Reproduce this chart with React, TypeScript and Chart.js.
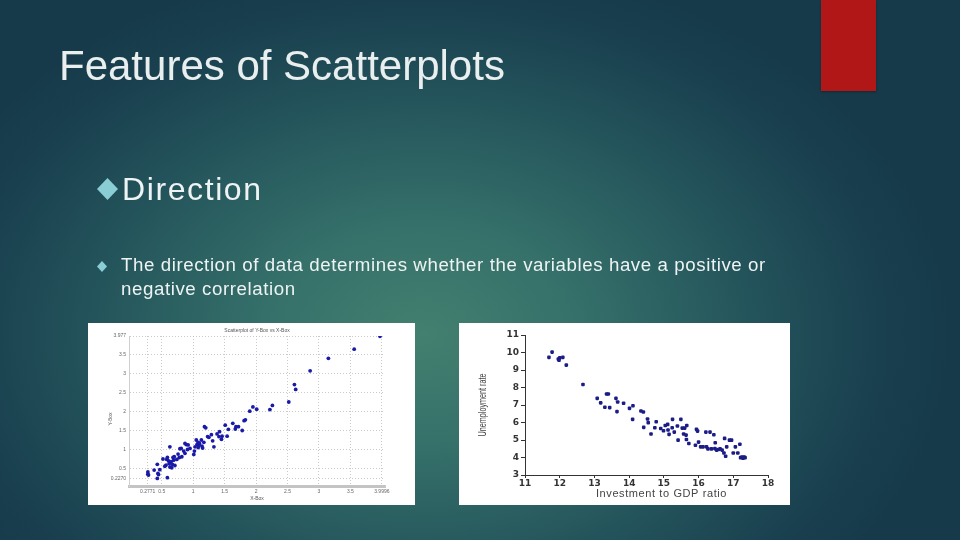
import React, { useEffect, useRef } from "react";
import { Chart, registerables } from "chart.js";
Chart.register(...registerables);

// ---------- Left chart: positive correlation ----------
const posX = [3.97, 3.56, 3.15, 2.86, 2.61, 2.63, 2.52, 2.26, 2.22, 1.95, 2.01, 1.9, 1.83, 1.81, 1.63, 1.51, 1.68, 1.72, 1.67, 1.78, 1.56, 1.42, 1.18, 1.2, 1.23, 1.25, 1.29, 1.38, 1.41, 1.46, 1.45, 1.54, 1.31, 1.33, 1.17, 1.14, 1.05, 1.08, 1.1, 1.13, 1.06, 1.09, 1.03, 1.08, 1.15, 1.02, 1.01, 0.89, 0.87, 0.91, 0.85, 0.81, 0.79, 0.87, 0.82, 0.78, 0.74, 0.68, 0.63, 0.59, 0.58, 0.61, 0.65, 0.62, 0.67, 0.69, 0.71, 0.66, 0.63, 0.57, 0.55, 0.52, 0.43, 0.47, 0.44, 0.45, 0.38, 0.59, 0.43, 0.28, 0.28, 0.29, 0.92, 0.95, 0.76, 0.7];
const posY = [3.97, 3.63, 3.39, 3.06, 2.7, 2.57, 2.24, 2.15, 2.04, 2.11, 2.05, 2.0, 1.77, 1.75, 1.68, 1.63, 1.59, 1.59, 1.53, 1.49, 1.52, 1.46, 1.59, 1.56, 1.33, 1.31, 1.38, 1.4, 1.33, 1.34, 1.26, 1.34, 1.22, 1.06, 1.18, 1.08, 1.24, 1.18, 1.15, 1.24, 1.12, 1.1, 1.06, 1.04, 1.03, 0.95, 0.86, 1.12, 1.15, 0.99, 0.95, 1.02, 1.01, 0.89, 0.8, 0.78, 0.73, 0.78, 1.06, 0.78, 0.73, 0.69, 0.67, 0.62, 0.6, 0.71, 0.57, 0.51, 0.53, 0.58, 0.55, 0.74, 0.6, 0.46, 0.36, 0.33, 0.45, 0.25, 0.23, 0.4, 0.34, 0.32, 1.11, 1.02, 0.87, 0.8];
const posXTicks = [0.2771, 0.5, 1, 1.5, 2, 2.5, 3, 3.5, 3.9996];
const posXTickLabels = ["0.2771", "0.5", "1", "1.5", "2", "2.5", "3", "3.5", "3.9996"];
const posYTicks = [0.227, 0.5, 1, 1.5, 2, 2.5, 3, 3.5, 3.977];
const posYTickLabels = ["0.2270", "0.5", "1", "1.5", "2", "2.5", "3", "3.5", "3.977"];
const posTitle = "Scatterplot of Y-Box vs X-Box";
const posXTitle = "X-Box";
const posYTitle = "Y-Box";

// ---------- Right chart: negative correlation ----------
const negX = [11.69, 11.78, 11.96, 12.0, 12.09, 11.98, 12.19, 12.67, 13.08, 13.18, 13.35, 13.4, 13.3, 13.44, 13.62, 13.67, 13.65, 13.84, 14.01, 14.11, 14.1, 14.34, 14.41, 14.42, 14.53, 14.55, 14.63, 14.74, 14.78, 14.91, 14.99, 15.04, 15.11, 15.12, 15.15, 15.24, 15.25, 15.3, 15.39, 15.41, 15.49, 15.53, 15.57, 15.6, 15.66, 15.64, 15.65, 15.72, 15.91, 15.94, 15.97, 16.0, 16.06, 16.13, 16.23, 16.21, 16.27, 16.33, 16.37, 16.44, 16.48, 16.47, 16.52, 16.57, 16.62, 16.68, 16.73, 16.75, 16.78, 16.81, 16.89, 16.95, 17.0, 17.06, 17.13, 17.19, 17.21, 17.25, 17.28, 17.34, 17.31];
const negY = [9.72, 10.02, 9.62, 9.69, 9.72, 9.56, 9.28, 8.17, 7.38, 7.12, 7.63, 7.63, 6.87, 6.85, 7.38, 7.17, 6.62, 7.1, 6.81, 6.96, 6.18, 6.66, 6.6, 5.72, 6.2, 5.99, 5.34, 5.7, 6.04, 5.66, 5.53, 5.83, 5.89, 5.57, 5.32, 5.7, 6.18, 5.45, 5.8, 4.99, 6.18, 5.68, 5.34, 5.68, 5.83, 5.28, 5.03, 4.8, 4.7, 5.61, 5.51, 4.88, 4.61, 4.61, 4.61, 5.45, 4.49, 5.45, 4.49, 5.3, 4.84, 4.51, 4.42, 4.46, 4.49, 4.42, 4.26, 5.09, 4.07, 4.61, 4.99, 4.99, 4.26, 4.61, 4.26, 4.76, 3.99, 4.03, 3.96, 3.99, 4.03];
const negXTitle = "Investment to GDP ratio";
const negYTitle = "Unemployment rate";

const FONT = '"Liberation Sans", Arial, sans-serif';
const WIDE = '"DejaVu Sans", "Liberation Sans", sans-serif';

function toPoints(xs: number[], ys: number[]) {
  return xs.map((x, i) => ({ x, y: ys[i] }));
}

function PositiveChart() {
  const ref = useRef<HTMLCanvasElement | null>(null);
  useEffect(() => {
    if (!ref.current) return;
    const titles = {
      id: "posTitles",
      afterDraw(chart: any) {
        const { ctx, chartArea } = chart;
        const cx = (chartArea.left + chartArea.right) / 2;
        ctx.save();
        ctx.fillStyle = "#555";
        ctx.font = `5px ${FONT}`;
        ctx.textAlign = "center";
        ctx.textBaseline = "middle";
        ctx.fillText(posTitle, cx, chartArea.top - 5);
        ctx.fillText(posXTitle, cx, chartArea.bottom + 13);
        ctx.translate(chartArea.left - 18, (chartArea.top + chartArea.bottom) / 2 + 8);
        ctx.rotate(-Math.PI / 2);
        ctx.fillText(posYTitle, 0, 0);
        ctx.restore();
      },
    };
    const chart = new Chart(ref.current, {
      type: "scatter",
      data: {
        datasets: [
          {
            data: toPoints(posX, posY),
            backgroundColor: "#1a1aa8",
            borderColor: "#1a1aa8",
            pointRadius: 1.9,
            borderWidth: 0,
          },
        ],
      },
      options: {
        animation: false,
        responsive: true,
        maintainAspectRatio: false,
        layout: { padding: { left: 0, right: 30, top: 13, bottom: 0 } },
        plugins: { legend: { display: false }, tooltip: { enabled: false } },
        scales: {
          x: {
            type: "linear",
            min: -0.02,
            max: 4.05,
            afterBuildTicks: (s: any) => {
              s.ticks = posXTicks.map((v) => ({ value: v }));
            },
            afterFit: (s: any) => {
              s.height = 19;
            },
            ticks: {
              autoSkip: false,
              maxRotation: 0,
              padding: 3,
              color: "#666",
              font: { size: 5, family: FONT },
              callback: (_v: any, i: number) => posXTickLabels[i],
            },
            grid: { color: "#bdbdbd", drawTicks: false, lineWidth: 0.8 },
            border: { color: "#c4c4c4", width: 3, dash: [1, 2] },
          },
          y: {
            type: "linear",
            min: 0.03,
            max: 3.977,
            afterBuildTicks: (s: any) => {
              s.ticks = posYTicks.map((v) => ({ value: v }));
            },
            afterFit: (s: any) => {
              s.width = 41;
            },
            ticks: {
              autoSkip: false,
              padding: 3,
              color: "#666",
              font: { size: 5, family: FONT },
              callback: (_v: any, i: number) => posYTickLabels[i],
            },
            grid: { color: "#bdbdbd", drawTicks: false, lineWidth: 0.8 },
            border: { color: "#d0d0d0", width: 1, dash: [1, 2] },
          },
        },
      },
      plugins: [titles],
    } as any);
    return () => chart.destroy();
  }, []);
  return <canvas ref={ref} />;
}

function NegativeChart() {
  const ref = useRef<HTMLCanvasElement | null>(null);
  useEffect(() => {
    if (!ref.current) return;
    const titles = {
      id: "negTitles",
      afterDraw(chart: any) {
        const { ctx, chartArea } = chart;
        ctx.save();
        ctx.fillStyle = "#444";
        ctx.textAlign = "center";
        ctx.textBaseline = "middle";
        ctx.font = `11px ${FONT}`;
        (ctx as any).letterSpacing = "0.6px";
        ctx.fillText(negXTitle, (chartArea.left + chartArea.right) / 2 + 15, chartArea.bottom + 19);
        (ctx as any).letterSpacing = "0px";
        ctx.translate(chartArea.left - 42, (chartArea.top + chartArea.bottom) / 2);
        ctx.rotate(-Math.PI / 2);
        ctx.scale(0.72, 1);
        ctx.font = `10px ${FONT}`;
        ctx.fillText(negYTitle, 0, 0);
        ctx.restore();
      },
    };
    const chart = new Chart(ref.current, {
      type: "scatter",
      data: {
        datasets: [
          {
            data: toPoints(negX, negY),
            backgroundColor: "#1c1c86",
            borderColor: "#1c1c86",
            pointRadius: 2.1,
            pointStyle: "rectRounded",
            borderWidth: 0,
          },
        ],
      },
      options: {
        animation: false,
        responsive: true,
        maintainAspectRatio: false,
        layout: { padding: { left: 0, right: 22, top: 12, bottom: 0 } },
        plugins: { legend: { display: false }, tooltip: { enabled: false } },
        scales: {
          x: {
            type: "linear",
            min: 11,
            max: 18,
            afterFit: (s: any) => {
              s.height = 30;
            },
            ticks: {
              stepSize: 1,
              padding: 0,
              color: "#333",
              font: { size: 9, family: WIDE, weight: "bold" },
            },
            grid: { drawOnChartArea: false, drawTicks: true, tickLength: 3, color: "#333" },
            border: { color: "#333", width: 1 },
          },
          y: {
            type: "linear",
            min: 3,
            max: 11,
            afterFit: (s: any) => {
              s.width = 66;
            },
            ticks: {
              stepSize: 1,
              padding: 2,
              color: "#333",
              font: { size: 9, family: WIDE, weight: "bold" },
            },
            grid: { drawOnChartArea: false, drawTicks: true, tickLength: 4, color: "#333" },
            border: { color: "#333", width: 1 },
          },
        },
      },
      plugins: [titles],
    } as any);
    return () => chart.destroy();
  }, []);
  return <canvas ref={ref} />;
}

const diamond = "polygon(50% 0, 100% 50%, 50% 100%, 0 50%)";

export default function App() {
  return (
    <div
      style={{
        position: "fixed",
        left: 0,
        top: 0,
        width: 960,
        height: 540,
        overflow: "hidden",
        fontFamily: FONT,
        background:
          "radial-gradient(ellipse 55% 70% at 44% 62%, #43806f 0%, #35706a 30%, #25565c 60%, #1a4150 85%, #163a49 100%)",
      }}
    >
      <div
        style={{
          position: "absolute",
          left: 821,
          top: 0,
          width: 55,
          height: 91,
          background: "#b11717",
          boxShadow: "0 1px 2px rgba(0,0,0,0.3)",
        }}
      />
      <div
        style={{
          position: "absolute",
          left: 59,
          top: 44.5,
          fontSize: 42,
          lineHeight: "42px",
          color: "#e9eeee",
          whiteSpace: "nowrap",
        }}
      >
        Features of Scatterplots
      </div>
      <div
        style={{
          position: "absolute",
          left: 97,
          top: 178,
          width: 21,
          height: 22,
          background: "#8bcdd5",
          clipPath: diamond,
        }}
      />
      <div
        style={{
          position: "absolute",
          left: 122,
          top: 172.5,
          fontSize: 32,
          lineHeight: "32px",
          letterSpacing: "1.6px",
          color: "#eef3f3",
          whiteSpace: "nowrap",
        }}
      >
        Direction
      </div>
      <div
        style={{
          position: "absolute",
          left: 97,
          top: 261,
          width: 10,
          height: 11,
          background: "#8bcdd5",
          clipPath: diamond,
        }}
      />
      <div
        style={{
          position: "absolute",
          left: 121,
          top: 253.2,
          fontSize: 18.7,
          lineHeight: "24px",
          letterSpacing: "0.58px",
          color: "#eef3f3",
          whiteSpace: "nowrap",
        }}
      >
        The direction of data determines whether the variables have a positive or
        <br />
        negative correlation
      </div>
      <div style={{ position: "absolute", left: 88, top: 323, width: 327, height: 182, background: "#fff" }}>
        <PositiveChart />
      </div>
      <div style={{ position: "absolute", left: 459, top: 323, width: 331, height: 182, background: "#fff" }}>
        <NegativeChart />
      </div>
    </div>
  );
}
